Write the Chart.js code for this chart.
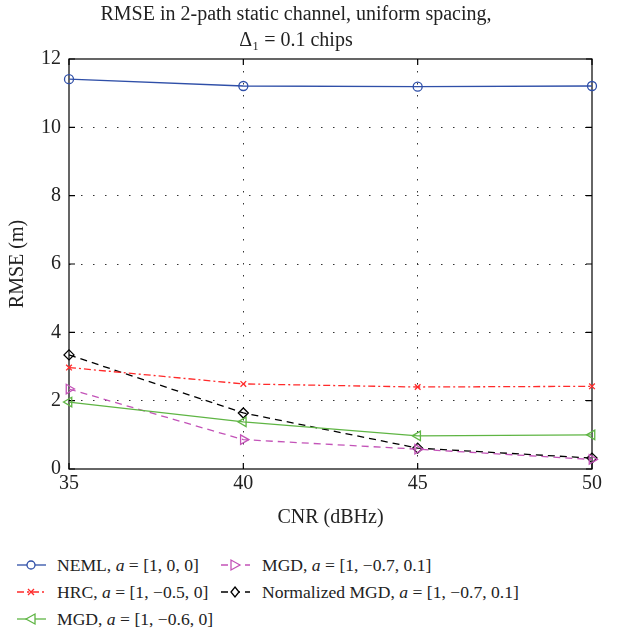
<!DOCTYPE html>
<html><head><meta charset="utf-8">
<script src="https://cdn.jsdelivr.net/npm/chart.js@4"></script>
<style>
html,body{margin:0;padding:0;background:#fff;}
#wrap{position:relative;width:621px;height:632px;font-family:"Liberation Serif","DejaVu Serif",serif;}
#c{position:absolute;left:0;top:0;}
.leg{position:absolute;font-size:17.6px;color:#222;white-space:nowrap;line-height:20px;}
.leg svg{position:absolute;top:0;}
.leg span{position:absolute;top:0;}
</style></head><body>
<div id="wrap"><canvas id="c" width="621" height="530"></canvas><div id="legend"></div></div>
<script>
const cnr = [35, 40, 45, 50];
const neml = [11.41, 11.21, 11.19, 11.21];
const hrc = [2.97, 2.49, 2.40, 2.42];
const mgd06 = [1.96, 1.38, 0.97, 1.00];
const mgd07 = [2.34, 0.86, 0.58, 0.28];
const nmgd = [3.34, 1.64, 0.61, 0.32];
const xTicks = [35, 40, 45, 50];
const yTicks = [0, 2, 4, 6, 8, 10, 12];
const seriesNames = ["NEML, <i>a</i> = [1, 0, 0]", "HRC, <i>a</i> = [1, −0.5, 0]", "MGD, <i>a</i> = [1, −0.6, 0]", "MGD, <i>a</i> = [1, −0.7, 0.1]", "Normalized MGD, <i>a</i> = [1, −0.7, 0.1]"];

const colors = ['#2f4fa8', '#ff2a2a', '#5fb544', '#c353b8', '#000000'];
const styles = [
  {dash: [], pt: 'circle', rot: 0, r: 4.5},
  {dash: [7, 3, 2, 3], pt: 'crossRot', rot: 0, r: 4},
  {dash: [], pt: 'triangle', rot: -90, r: 5.5},
  {dash: [7, 5], pt: 'triangle', rot: 90, r: 5.5},
  {dash: [7, 5], pt: 'rectRot', rot: 0, r: 5}
];
const seriesData = [neml, hrc, mgd06, mgd07, nmgd];

const datasets = seriesData.map((vals, i) => ({
  label: seriesNames[i].replace(/<[^>]+>/g, ''),
  data: vals.map((v, k) => ({x: cnr[k], y: v})),
  borderColor: colors[i],
  backgroundColor: 'rgba(0,0,0,0)',
  borderWidth: 1.3,
  borderDash: styles[i].dash,
  pointStyle: styles[i].pt,
  pointRotation: styles[i].rot,
  pointRadius: styles[i].r,
  pointBorderWidth: 1.3,
  pointBorderColor: colors[i],
  pointBackgroundColor: 'rgba(0,0,0,0)',
  tension: 0,
  clip: false
}));

const FONT = "'Liberation Serif', 'DejaVu Serif', serif";

const boxPlugin = {
  id: 'box',
  beforeDatasetsDraw(chart) {
    const {ctx, chartArea: a, scales: {x, y}} = chart;
    ctx.save();
    ctx.strokeStyle = '#000';
    ctx.lineWidth = 1.2;
    ctx.setLineDash([]);
    ctx.strokeRect(a.left, a.top, a.right - a.left, a.bottom - a.top);
    const L = 6;
    ctx.beginPath();
    xTicks.forEach(v => {
      const px = x.getPixelForValue(v);
      ctx.moveTo(px, a.bottom); ctx.lineTo(px, a.bottom - L);
      ctx.moveTo(px, a.top); ctx.lineTo(px, a.top + L);
    });
    yTicks.forEach(v => {
      const py = y.getPixelForValue(v);
      ctx.moveTo(a.left, py); ctx.lineTo(a.left + L, py);
      ctx.moveTo(a.right, py); ctx.lineTo(a.right - L, py);
    });
    ctx.stroke();
    ctx.restore();
  }
};

const gridColor = (ctx) => {
  const n = ctx.scale.ticks.length;
  return (ctx.index === 0 || ctx.index === n - 1) ? 'rgba(0,0,0,0)' : '#333';
};

new Chart(document.getElementById('c'), {
  type: 'line',
  data: {datasets},
  options: {
    responsive: false,
    animation: false,
    layout: {padding: {left: 0, right: 29, top: 0, bottom: 0}},
    plugins: {
      legend: {display: false},
      tooltip: {enabled: false},
      title: {
        display: true,
        text: ['RMSE in 2-path static channel, uniform spacing,', 'Δ₁ = 0.1 chips'],
        color: '#222',
        font: {family: FONT, size: 20, weight: 'normal', lineHeight: 1.3},
        padding: {top: 2, bottom: 5}
      }
    },
    scales: {
      x: {
        type: 'linear', min: 35, max: 50,
        afterBuildTicks: s => { s.ticks = xTicks.map(v => ({value: v})); },
        afterFit: s => { s.height = 61; },
        grid: {color: gridColor, lineWidth: 1, drawTicks: false},
        border: {display: false, dash: [1.5, 10.5]},
        ticks: {color: '#222', font: {family: FONT, size: 20}, padding: 3, maxRotation: 0},
        title: {display: true, text: 'CNR (dBHz)', color: '#222', font: {family: FONT, size: 20}, padding: {top: 8, bottom: 0}}
      },
      y: {
        type: 'linear', min: 0, max: 12,
        afterBuildTicks: s => { s.ticks = yTicks.map(v => ({value: v})); },
        afterFit: s => { s.width = 69; },
        grid: {color: gridColor, lineWidth: 1, drawTicks: false},
        border: {display: false, dash: [1.5, 10.5]},
        ticks: {color: '#222', font: {family: FONT, size: 20}, padding: 8},
        title: {display: true, text: 'RMSE (m)', color: '#222', font: {family: FONT, size: 20}, padding: {top: 6, bottom: 4}}
      }
    }
  },
  plugins: [boxPlugin]
});

// HTML legend
const legendPos = [
  {x: 16, y: 555, tx: 57},
  {x: 16, y: 582, tx: 57},
  {x: 16, y: 609, tx: 57},
  {x: 220, y: 555, tx: 262},
  {x: 220, y: 582, tx: 262}
];
function markerSvg(i) {
  const c = colors[i], cx = 15, cy = 10;
  switch (styles[i].pt) {
    case 'circle': return `<circle cx="${cx}" cy="${cy}" r="4" fill="#fff" stroke="${c}" stroke-width="1.3"/>`;
    case 'crossRot': return `<path d="M${cx-3} ${cy-3}L${cx+3} ${cy+3}M${cx+3} ${cy-3}L${cx-3} ${cy+3}" stroke="${c}" stroke-width="1.3"/>`;
    case 'triangle':
      if (styles[i].rot < 0) return `<path d="M${cx-5} ${cy}L${cx+4} ${cy-5}L${cx+4} ${cy+5}Z" fill="#fff" stroke="${c}" stroke-width="1.3"/>`;
      return `<path d="M${cx+5} ${cy}L${cx-4} ${cy-5}L${cx-4} ${cy+5}Z" fill="#fff" stroke="${c}" stroke-width="1.3"/>`;
    case 'rectRot': return `<path d="M${cx} ${cy-5}L${cx+4} ${cy}L${cx} ${cy+5}L${cx-4} ${cy}Z" fill="#fff" stroke="${c}" stroke-width="1.3"/>`;
  }
  return '';
}
const legHtml = seriesNames.map((name, i) => {
  const p = legendPos[i];
  const dash = styles[i].dash.length ? `stroke-dasharray="${styles[i].dash.join(' ')}"` : '';
  const line = `<line x1="1" y1="10" x2="30" y2="10" stroke="${colors[i]}" stroke-width="1.3" ${dash}/>`;
  return `<div class="leg" style="left:${p.x}px;top:${p.y}px;width:400px;height:20px;">
    <svg width="32" height="20" style="left:0">${line}${markerSvg(i)}</svg>
    <span style="left:${p.tx - p.x}px">${name}</span></div>`;
}).join('');
document.getElementById('legend').innerHTML = legHtml;
</script>
</body></html>
